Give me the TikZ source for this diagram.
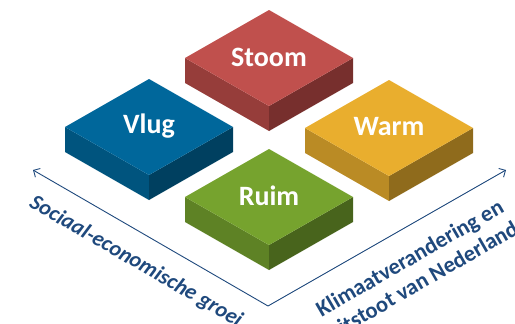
\documentclass[tikz,border=0pt]{standalone}
\usepackage{fontspec}
\setmainfont{Carlito}
\usetikzlibrary{arrows.meta,calc}
\definecolor{axisblue}{RGB}{31,73,125}
\definecolor{redT}{RGB}{192,80,77}\definecolor{redL}{RGB}{150,61,58}\definecolor{redR}{RGB}{119,47,45}
\definecolor{blueT}{RGB}{0,103,155}\definecolor{blueL}{RGB}{0,84,126}\definecolor{blueR}{RGB}{0,64,96}
\definecolor{yelT}{RGB}{233,174,46}\definecolor{yelL}{RGB}{186,139,37}\definecolor{yelR}{RGB}{143,107,28}
\definecolor{grnT}{RGB}{118,163,46}\definecolor{grnL}{RGB}{94,130,37}\definecolor{grnR}{RGB}{72,100,28}
\tikzset{
  blocklabel/.style={text=white,font=\fontsize{28}{30}\selectfont\bfseries,inner sep=0pt},
  axisline/.style={draw=axisblue,line width=0.9pt,-{Straight Barb[length=5pt,width=10pt]}},
  axislabel/.style={text=axisblue,inner sep=0pt},
}
% #1 name, #2 cx, #3 cy, #4 top, #5 left, #6 right, #7 text
\newcommand\isoblock[7]{%
  \coordinate (#1T) at (#2,#3-48);
  \coordinate (#1R) at (#2+84,#3);
  \coordinate (#1B) at (#2,#3+48);
  \coordinate (#1L) at (#2-84,#3);
  \fill[#5] (#1L) -- (#1B) -- ++(0,25) -- ($(#1L)+(0,25)$) -- cycle;
  \fill[#6] (#1B) -- (#1R) -- ++(0,25) -- ($(#1B)+(0,25)$) -- cycle;
  \fill[#4] (#1T) -- (#1R) -- (#1B) -- (#1L) -- cycle;
  \node[blocklabel] (#1) at (#2,#3-1) {#7};
}
\begin{document}
\begin{tikzpicture}[x=1pt,y=-1pt]
\useasboundingbox (0,0) rectangle (515,324);
\clip (0,0) rectangle (515,324);
\isoblock{stoom}{269}{58}{redT}{redL}{redR}{Stoom}
\isoblock{vlug}{149}{127}{blueT}{blueL}{blueR}{Vlug}
\isoblock{warm}{389}{128}{yelT}{yelL}{yelR}{Warm}
\isoblock{ruim}{269}{197}{grnT}{grnL}{grnR}{Ruim}
\coordinate (corner) at (268,306);
\coordinate (leftend) at (33,170);
\coordinate (rightend) at (506,170);
\draw[axisline] (corner) -- (leftend);
\draw[axisline] (corner) -- (rightend);
\node[axislabel,font=\fontsize{22}{24}\selectfont\bfseries\itshape,rotate=-30] (soc) at (136,262) {Sociaal-economische groei};
\node[axislabel,font=\fontsize{22.5}{26}\selectfont\bfseries,rotate=30,align=center] (klim) at (416,269) {Klimaatverandering en\\uitstoot van Nederland};
\end{tikzpicture}
\end{document}
